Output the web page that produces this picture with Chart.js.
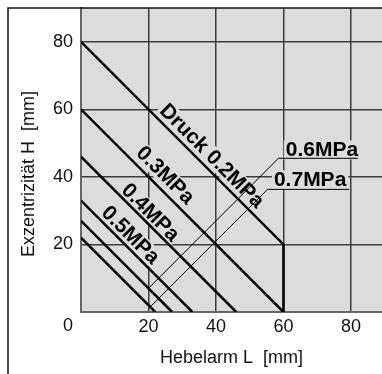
<!DOCTYPE html>
<html lang="de">
<head>
  <meta charset="UTF-8">
  <title>Exzentrizität vs. Hebelarm</title>
  <script src="https://cdn.jsdelivr.net/npm/chart.js"></script>
  <style>
    html, body { margin: 0; background: #fff; }
    canvas { display: block; }
  </style>
</head>
<body>
  <canvas id="chart" width="382" height="374"></canvas>

  <script>
    // pressure curves (Hebelarm L / Exzentrizität H, mm)
    const pressures = ['Druck 0.2MPa', '0.3MPa', '0.4MPa', '0.5MPa', '0.6MPa', '0.7MPa'];
    const curveL = [[0, 60, 60], [0, 60], [0, 46], [0, 33], [0, 27], [0, 22]];
    const curveH = [[80, 20, 0], [60, 0], [46, 0], [33, 0], [27, 0], [22, 0]];

    // leader lines for the 0.6 / 0.7 labels
    const leader06L = [20, 58.5, 82];
    const leader06H = [7, 45.5, 45.5];
    const leader07L = [20.5, 55.3, 79.5];
    const leader07H = [1.5, 36.3, 36.3];

    const xTicks = [20, 40, 60, 80];
    const yTicks = [20, 40, 60, 80];

    // where the labels sit (data units) and their angle
    const labelPos = [[38.9, 46.3], [25.1, 40.6], [20.7, 29.6], [14.8, 22.9], [71.4, 48.1], [67.9, 39.3]];
    const labelAngle = [45, 45, 45, 45, 0, 0];

    const BG = '#dcdcdc';
    const FONT = "'Liberation Sans', Arial, sans-serif";

    const toPts = (xs, ys) => xs.map((x, i) => ({ x, y: ys[i] }));

    const datasets = pressures.map((p, i) => ({
      label: p,
      data: toPts(curveL[i], curveH[i]),
      borderColor: '#000',
      borderWidth: 2.5,
    }));
    datasets.push({ label: 'leader 0.6', data: toPts(leader06L, leader06H), borderColor: '#000', borderWidth: 1 });
    datasets.push({ label: 'leader 0.7', data: toPts(leader07L, leader07H), borderColor: '#000', borderWidth: 1 });

    function eachLabel(chart, fn) {
      const { ctx, scales: { x, y } } = chart;
      pressures.forEach((p, i) => {
        ctx.save();
        ctx.translate(x.getPixelForValue(labelPos[i][0]), y.getPixelForValue(labelPos[i][1]));
        ctx.rotate(labelAngle[i] * Math.PI / 180);
        ctx.font = 'bold 21px ' + FONT;
        fn(ctx, p);
        ctx.restore();
      });
    }

    const decor = {
      id: 'decor',
      beforeDraw(chart) {
        const { ctx, chartArea: a } = chart;
        ctx.save();
        ctx.fillStyle = BG;
        ctx.fillRect(a.left, a.top, a.right - a.left, a.bottom - a.top);
        ctx.restore();
      },
      beforeDatasetsDraw(chart) {
        // label backgrounds hide the grid behind the text
        eachLabel(chart, (ctx, t) => {
          const w = ctx.measureText(t).width;
          ctx.fillStyle = BG;
          ctx.fillRect(-w / 2 - 2, -9, w + 4, 19);
        });
      },
      afterDatasetsDraw(chart) {
        const { ctx, chartArea: a } = chart;
        eachLabel(chart, (ctx, t) => {
          ctx.fillStyle = '#000';
          ctx.textAlign = 'center';
          ctx.textBaseline = 'middle';
          ctx.fillText(t, 0, 1);
        });

        ctx.save();
        ctx.fillStyle = '#111';
        ctx.font = '18px ' + FONT;
        // shared zero in the corner
        ctx.textAlign = 'right';
        ctx.textBaseline = 'middle';
        ctx.fillText('0', a.left - 8, a.bottom + 14);
        // y axis title
        ctx.translate(29, 174);
        ctx.rotate(-Math.PI / 2);
        ctx.textAlign = 'center';
        ctx.fillText('Exzentrizität H  [mm]', 0, 0);
        ctx.restore();

        // outer frame
        ctx.save();
        ctx.strokeStyle = '#111';
        ctx.lineWidth = 1.5;
        ctx.beginPath();
        ctx.moveTo(8, chart.height);
        ctx.lineTo(8, 8);
        ctx.lineTo(chart.width, 8);
        ctx.stroke();
        ctx.restore();
      }
    };

    new Chart(document.getElementById('chart'), {
      type: 'scatter',
      data: { datasets },
      plugins: [decor],
      options: {
        responsive: false,
        animation: false,
        showLine: true,
        layout: { padding: { left: 8, top: 8, right: 0, bottom: 0 } },
        elements: { point: { radius: 0 }, line: { tension: 0 } },
        plugins: { legend: { display: false }, tooltip: { enabled: false } },
        scales: {
          x: {
            type: 'linear',
            min: 0,
            max: 89.2,
            afterBuildTicks: s => { s.ticks = xTicks.map(v => ({ value: v })); },
            afterFit: s => { s.height = 62; s.paddingLeft = 0; s.paddingRight = 0; },
            grid: { color: '#3c3c3c', lineWidth: 1.5, drawTicks: false },
            border: { color: '#666', width: 2 },
            ticks: { color: '#111', font: { family: FONT, size: 18 }, padding: 4, maxRotation: 0 },
            title: { display: true, text: 'Hebelarm L  [mm]', color: '#111', font: { family: FONT, size: 18 }, padding: { top: 0, bottom: 5 } }
          },
          y: {
            type: 'linear',
            min: 0,
            max: 90,
            afterBuildTicks: s => { s.ticks = yTicks.map(v => ({ value: v })); },
            afterFit: s => { s.width = 73; s.paddingTop = 0; s.paddingBottom = 0; },
            grid: { color: '#3c3c3c', lineWidth: 1.5, drawTicks: false },
            border: { color: '#666', width: 2 },
            ticks: { color: '#111', font: { family: FONT, size: 18 }, padding: 8 }
          }
        }
      }
    });
  </script>
</body>
</html>
